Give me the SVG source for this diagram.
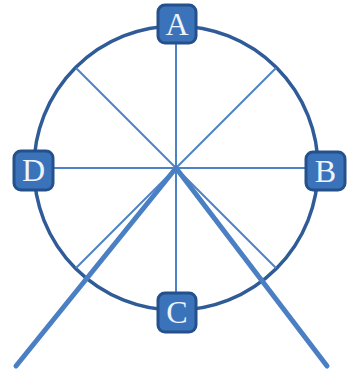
<svg xmlns="http://www.w3.org/2000/svg" width="358" height="376" viewBox="0 0 358 376">
<defs>
<style>
.spoke{stroke:#4d82c6;stroke-width:2;fill:none}
.leg{stroke:#4a7fc3;stroke-width:5;stroke-linecap:round;fill:none}
.rim{stroke:#2f5c98;stroke-width:3.5;fill:none}
.box{fill:#3a73ba;stroke:#24508c;stroke-width:3}
.lbl{font-family:"Liberation Serif","DejaVu Serif",serif;font-size:32px;fill:#eef4fc;text-anchor:middle}
</style>
</defs>
<rect width="358" height="376" fill="#ffffff"/>
<g id="connectors">
<circle class="rim" cx="176" cy="168" r="142"/>
<line class="spoke" x1="176" y1="26" x2="176" y2="310"/>
<line class="spoke" x1="34" y1="168" x2="318" y2="168"/>
<line class="spoke" x1="76" y1="68" x2="276" y2="268"/>
<line class="spoke" x1="276" y1="68" x2="76" y2="268"/>
<line class="leg" x1="176" y1="168" x2="16" y2="366"/>
<line class="leg" x1="176" y1="168" x2="327" y2="366"/>
</g>
<g id="A"><rect class="box" x="158" y="5" width="38" height="38" rx="7"/><text class="lbl" x="177" y="35">A</text></g>
<g id="B"><rect class="box" x="306" y="152" width="39" height="38" rx="7"/><text class="lbl" x="325.5" y="182">B</text></g>
<g id="C"><rect class="box" x="158" y="293" width="38" height="39" rx="7"/><text class="lbl" x="177" y="323">C</text></g>
<g id="D"><rect class="box" x="14" y="151" width="39" height="39" rx="7"/><text class="lbl" x="33.5" y="181">D</text></g>
</svg>
